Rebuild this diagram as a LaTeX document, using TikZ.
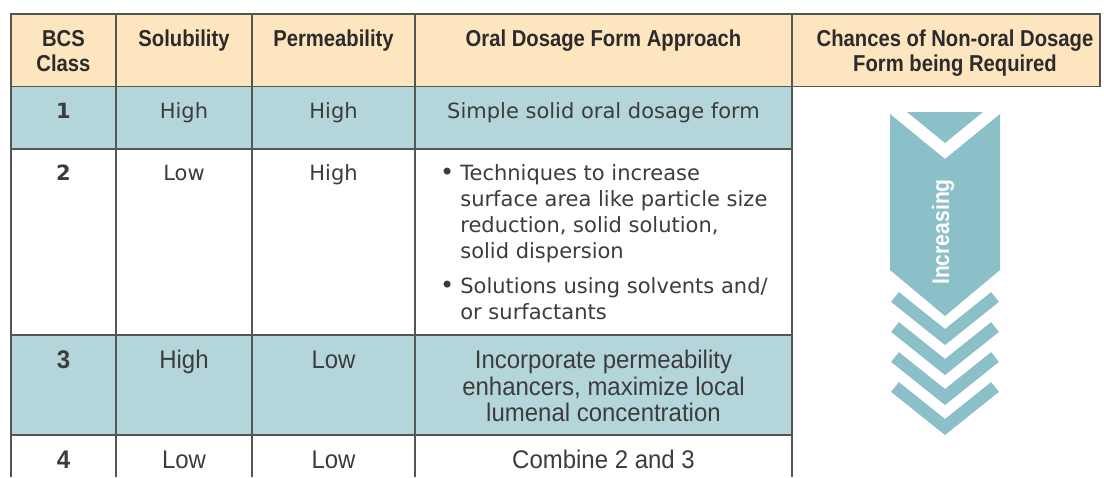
\documentclass[tikz,border=0pt]{standalone}
\usepackage{fontspec}
\setmainfont{DejaVu Sans}
\newfontfamily\headfont[FakeStretch=0.88]{Liberation Sans}
\newfontfamily\condfont[FakeStretch=0.94]{Liberation Sans}
\definecolor{headfill}{HTML}{FDE6BF}
\definecolor{rowfill}{HTML}{B4D6DB}
\definecolor{arrowfill}{HTML}{8CC0C9}
\definecolor{rulegray}{HTML}{555555}
\definecolor{headtext}{HTML}{2B2B2B}
\definecolor{bodytext}{HTML}{3C3C3C}

\begin{document}
\begin{tikzpicture}[x=1pt,y=-1pt,
  rule/.style={draw=rulegray,line width=1.3pt},
  head/.style={anchor=north,inner sep=0pt,align=center,text=headtext,
    font=\headfont\bfseries\fontsize{23}{25}\selectfont},
  body/.style={anchor=north,inner sep=0pt,align=center,text=bodytext,
    font=\fontsize{21}{26}\selectfont},
  cond/.style={body,font=\condfont\fontsize{25.5}{26}\selectfont},
  chevron/.style={draw=arrowfill,line width=12.5pt,line join=miter}]
  \useasboundingbox[fill=white] (0,0) rectangle (1104,477);

  % fills
  \fill[headfill] (11,14) rectangle (1100,86);
  \fill[rowfill] (11,87) rectangle (792,149);
  \fill[rowfill] (11,335) rectangle (792,435);

  % rules
  \draw[rule] (11,477) -- (11,14) -- (1100,14) -- (1100,86.5);
  \draw[rule] (11,86.5) -- (1100,86.5);
  \draw[rule] (11,149) -- (792,149);
  \draw[rule] (11,335) -- (792,335);
  \draw[rule] (11,435) -- (792,435);
  \draw[rule] (116,14) -- (116,477);
  \draw[rule] (252,14) -- (252,477);
  \draw[rule] (415,14) -- (415,477);
  \draw[rule] (792,14) -- (792,477);

  % header
  \node[head] (hclass) at (63.5,28.7) {\strut BCS\\Class};
  \node[head] (hsol) at (184,28.7) {\strut Solubility};
  \node[head] (hperm) at (333.5,28.7) {\strut Permeability};
  \node[head] (happr) at (603.5,28.7) {\strut Oral Dosage Form Approach};
  \node[head] (hchance) at (955,28.7)
    {\strut Chances of Non-oral Dosage\\Form being Required};

  % class 1
  \node[body,font=\bfseries\fontsize{21}{26}\selectfont] (c1) at (63.5,100) {\strut 1};
  \node[body] (s1) at (184,100) {\strut High};
  \node[body] (p1) at (333.5,100) {\strut High};
  \node[body] (a1) at (603.5,100) {\strut Simple solid oral dosage form};

  % class 2
  \node[body,font=\bfseries\fontsize{21}{26}\selectfont] (c2) at (63.5,162) {\strut 2};
  \node[body] (s2) at (184,162) {\strut Low};
  \node[body] (p2) at (333.5,162) {\strut High};
  \node[body,anchor=north west,align=left] (a2) at (440,162)
    {\begin{tabular}{@{}l@{\hspace{6pt}}l@{}}
      {\fontsize{24}{26}\selectfont\textbullet} & Techniques to increase\\
                  & surface area like particle size\\
                  & reduction, solid solution,\\
                  & solid dispersion\\[9pt]
      {\fontsize{24}{26}\selectfont\textbullet} & Solutions using solvents and/\\
                  & or surfactants
     \end{tabular}};

  % class 3
  \node[cond,font=\condfont\bfseries\fontsize{25.5}{26}\selectfont] (c3) at (63.5,350) {\strut 3};
  \node[cond] (s3) at (184,350) {\strut High};
  \node[cond] (p3) at (333.5,350) {\strut Low};
  \node[cond] (a3) at (603.5,350)
    {\strut Incorporate permeability\\enhancers, maximize local\\lumenal concentration};

  % class 4
  \node[cond,font=\condfont\bfseries\fontsize{25.5}{26}\selectfont] (c4) at (63.5,450) {\strut 4};
  \node[cond] (s4) at (184,450) {\strut Low};
  \node[cond] (p4) at (333.5,450) {\strut Low};
  \node[cond] (a4) at (603.5,450) {\strut Combine 2 and 3};

  % increasing arrow
  \fill[arrowfill] (907,112) -- (983,112) -- (945,143) -- cycle;
  \fill[arrowfill] (890,114) -- (945,159) -- (1000,114) -- (1000,270)
    -- (945,316) -- (890,270) -- cycle;
  \draw[chevron] (895,297) -- (945,337) -- (995,297);
  \draw[chevron] (895,327) -- (945,367) -- (995,327);
  \draw[chevron] (895,357) -- (945,397) -- (995,357);
  \draw[chevron] (895,387) -- (945,427) -- (995,387);
  \node[rotate=90,text=white,inner sep=0pt,
    font=\headfont\bfseries\fontsize{24}{25}\selectfont] (incr) at (943,232) {Increasing};
\end{tikzpicture}
\end{document}
